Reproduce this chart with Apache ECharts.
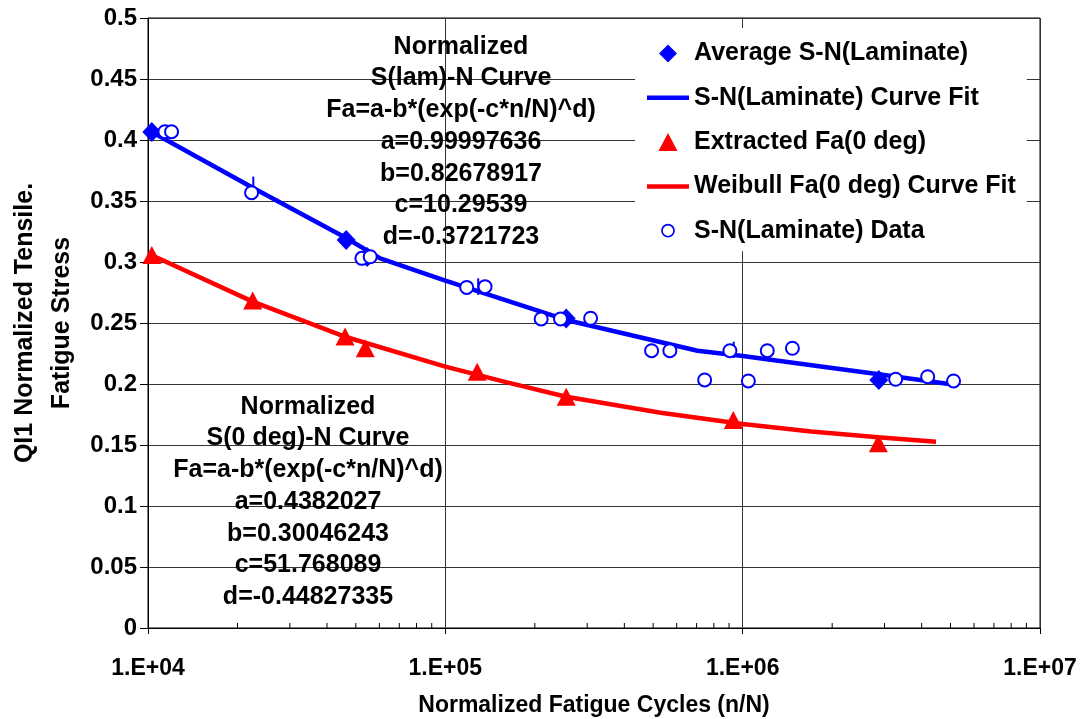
<!DOCTYPE html>
<html>
<head>
<meta charset="utf-8">
<script src="https://cdn.jsdelivr.net/npm/echarts@6/dist/echarts.min.js"></script>
<style>
html,body{margin:0;padding:0;background:#fff;}
#chart{width:1090px;height:719px;}
</style>
</head>
<body>
<div id="chart"></div>
<script>
// ---- data ----
const avgSN = [[1.03e4,0.4066],[4.64e4,0.318],[5.46e4,0.3041],[2.55e5,0.2537],[2.87e6,0.2033]];
const snFit = [[1.03e4,0.4066],[2.26e4,0.3607],[4.64e4,0.3197],[6.04e4,0.303],[1e5,0.2847],[2.55e5,0.2525],[7.05e5,0.2273],[1e6,0.223],[2.87e6,0.208],[5.01e6,0.1998]];
const extractedFa = [[1.03e4,0.3057],[2.25e4,0.2684],[4.6e4,0.2389],[5.38e4,0.2293],[1.28e5,0.2101],[2.55e5,0.1896],[9.3e5,0.1705],[2.86e6,0.1514]];
const weibullFit = [[1e4,0.307],[2.25e4,0.2675],[4.66e4,0.2383],[1e5,0.2142],[1.6e5,0.2015],[2.55e5,0.1896],[5.3e5,0.1765],[1e6,0.1672],[1.7e6,0.161],[2.85e6,0.1563],[4.47e6,0.1527]];
const snData = [[1.14e4,0.4068],[1.2e4,0.4068],[2.23e4,0.3568],[5.24e4,0.303],[5.59e4,0.3043],[1.18e5,0.2792],[1.36e5,0.2798],[2.1e5,0.2533],[2.44e5,0.2533],[3.08e5,0.2539],[4.94e5,0.2273],[5.69e5,0.2273],[9.06e5,0.2273],[1.21e6,0.2273],[1.47e6,0.2293],[7.45e5,0.2033],[1.045e6,0.2025],[3.27e6,0.2039],[4.19e6,0.206],[5.12e6,0.2025]];
const errorBars = [[2.26e4,0.351,0.370],[1.29e5,0.273,0.2866],[9.33e5,0.2213,0.2347]];
const xTickValues = [1e4,1e5,1e6,1e7];
const xTickLabels = ['1.E+04','1.E+05','1.E+06','1.E+07'];
const minorTickValues = [2e4,3e4,4e4,5e4,6e4,7e4,8e4,9e4,2e5,3e5,4e5,5e5,6e5,7e5,8e5,9e5,2e6,3e6,4e6,5e6,6e6,7e6,8e6,9e6];
const seriesNames = ['Average S-N(Laminate)','S-N(Laminate) Curve Fit','Extracted Fa(0 deg)','Weibull Fa(0 deg) Curve Fit','S-N(Laminate) Data'];
const yTitle = ['QI1 Normalized Tensile.','Fatigue Stress'];
const note1 = ['Normalized','S(lam)-N Curve','Fa=a-b*(exp(-c*n/N)^d)','a=0.99997636','b=0.82678917','c=10.29539','d=-0.3721723'];
const note2 = ['Normalized','S(0 deg)-N Curve','Fa=a-b*(exp(-c*n/N)^d)','a=0.4382027','b=0.30046243','c=51.768089','d=-0.44827335'];

const FONT = "'Liberation Sans', Arial, sans-serif";
const chart = echarts.init(document.getElementById('chart'), null, {renderer:'canvas'});

const ICON_LINE = 'path://M0,0 L42,0 L42,4.5 L0,4.5 Z';
const ICON_DIAMOND = 'path://M9,0 L18,9 L9,18 L0,9 Z';
const ICON_TRIANGLE = 'path://M9,0 L18,17 L0,17 Z';
const ICON_RING = 'path://M0,0 M17,17 M15,8.5 A6.5,6.5 0 1,1 2,8.5 A6.5,6.5 0 1,1 15,8.5 Z M13.4,8.5 A4.9,4.9 0 1,0 3.6,8.5 A4.9,4.9 0 1,0 13.4,8.5 Z';

const option = {
  backgroundColor: '#fff',
  animation: false,
  textStyle: {fontFamily: FONT},
  grid: {left:148, right:50, top:18, bottom:91, containLabel:false, outerBoundsMode:'none', show:true, borderColor:'#000', borderWidth:1, backgroundColor:'transparent'},
  xAxis: {
    type: 'log', logBase: 10, min: 1e4, max: 1e7,
    name: 'Normalized Fatigue Cycles (n/N)', nameLocation: 'middle', nameGap: 66,
    nameTextStyle: {fontFamily: FONT, fontWeight:'bold', fontSize:23, color:'#000'},
    axisLine: {show:true, onZero:false, lineStyle:{color:'#000', width:1}},
    axisTick: {show:true, inside:false, length:6, lineStyle:{color:'#000'}},
    minorTick: {show:false},
    splitLine: {show:true, lineStyle:{color:'#333', width:1}},
    axisLabel: {fontFamily: FONT, fontWeight:'bold', fontSize:23, color:'#000', margin:29,
      formatter: function(v){ const i = xTickValues.findIndex(t => Math.abs(Math.log10(t)-Math.log10(v))<1e-6); return i>=0 ? xTickLabels[i] : ''; }}
  },
  yAxis: {
    type: 'value', min: 0, max: 0.5, interval: 0.05,
    axisLine: {show:true, lineStyle:{color:'#000', width:1}},
    axisTick: {show:true, inside:false, length:8, lineStyle:{color:'#000'}},
    splitLine: {show:true, lineStyle:{color:'#333', width:1}},
    axisLabel: {fontFamily: FONT, fontWeight:'bold', fontSize:24, color:'#000', margin:11}
  },
  legend: {
    orient: 'vertical', left: 635, top: 28,
    backgroundColor: '#fff', padding: [13, 11, 8, 12],
    itemWidth: 42, itemHeight: 18, itemGap: 19.3,
    symbolKeepAspect: true,
    textStyle: {fontFamily: FONT, fontWeight:'bold', fontSize:25, color:'#000', lineHeight:25},
    data: [
      {name: seriesNames[0], icon: ICON_DIAMOND},
      {name: seriesNames[1], icon: ICON_LINE},
      {name: seriesNames[2], icon: ICON_TRIANGLE},
      {name: seriesNames[3], icon: ICON_LINE},
      {name: seriesNames[4], icon: ICON_RING, itemStyle: {color:'#0000FF', borderWidth:0}}
    ]
  },
  graphic: [
    {type:'text', x: 44, y: 323, rotation: Math.PI/2, z: 50, style: {text: yTitle.join('\n'), fontFamily: FONT, fontWeight:'bold', fontSize:25, lineHeight:37, fill:'#000', align:'center', verticalAlign:'middle'}},
    {type:'text', x: 461, y: 31, z: 50, style: {text: note1.join('\n'), fontFamily: FONT, fontWeight:'bold', fontSize:25, lineHeight:31.7, fill:'#000', align:'center', verticalAlign:'top'}},
    {type:'text', x: 308, y: 391, z: 50, style: {text: note2.join('\n'), fontFamily: FONT, fontWeight:'bold', fontSize:25, lineHeight:31.7, fill:'#000', align:'center', verticalAlign:'top'}}
  ],
  series: [
    {name: seriesNames[0], type:'scatter', data: avgSN, symbol:'diamond', symbolSize:[19,20], itemStyle:{color:'#0000FF', opacity:1}, z:3},
    {name: seriesNames[1], type:'line', data: snFit, symbol:'none', showSymbol:false, lineStyle:{color:'#0000FF', width:4.5}, itemStyle:{color:'#0000FF'}, z:2},
    {name: seriesNames[2], type:'scatter', data: extractedFa, symbol:'triangle', symbolSize:[19,18], itemStyle:{color:'#FF0000', opacity:1}, z:3},
    {name: seriesNames[3], type:'line', data: weibullFit, symbol:'none', showSymbol:false, smooth:false, lineStyle:{color:'#FF0000', width:4.5}, itemStyle:{color:'#FF0000'}, z:2},
    {name: seriesNames[4], type:'scatter', data: snData, symbol:'emptyCircle', symbolSize:13, itemStyle:{color:'#0000FF', borderColor:'#0000FF', borderWidth:1.6, opacity:1}, z:4},
    {name: 'errorbars', type:'custom', data: errorBars, z:4, silent:true,
      renderItem: function(params, api){
        const p1 = api.coord([api.value(0), api.value(1)]);
        const p2 = api.coord([api.value(0), api.value(2)]);
        return {type:'line', shape:{x1:p1[0], y1:p1[1], x2:p2[0], y2:p2[1]}, style:{stroke:'#0000FF', lineWidth:2}};
      }},
    {name: 'minorTicks', type:'custom', data: minorTickValues.map(v => [v, 0]), z:5, silent:true, clip:false,
      renderItem: function(params, api){
        const p = api.coord([api.value(0), 0]);
        return {type:'line', shape:{x1:p[0], y1:p[1], x2:p[0], y2:p[1]-5}, style:{stroke:'#000', lineWidth:1}};
      }}
  ]
};
chart.setOption(option);
</script>
</body>
</html>
